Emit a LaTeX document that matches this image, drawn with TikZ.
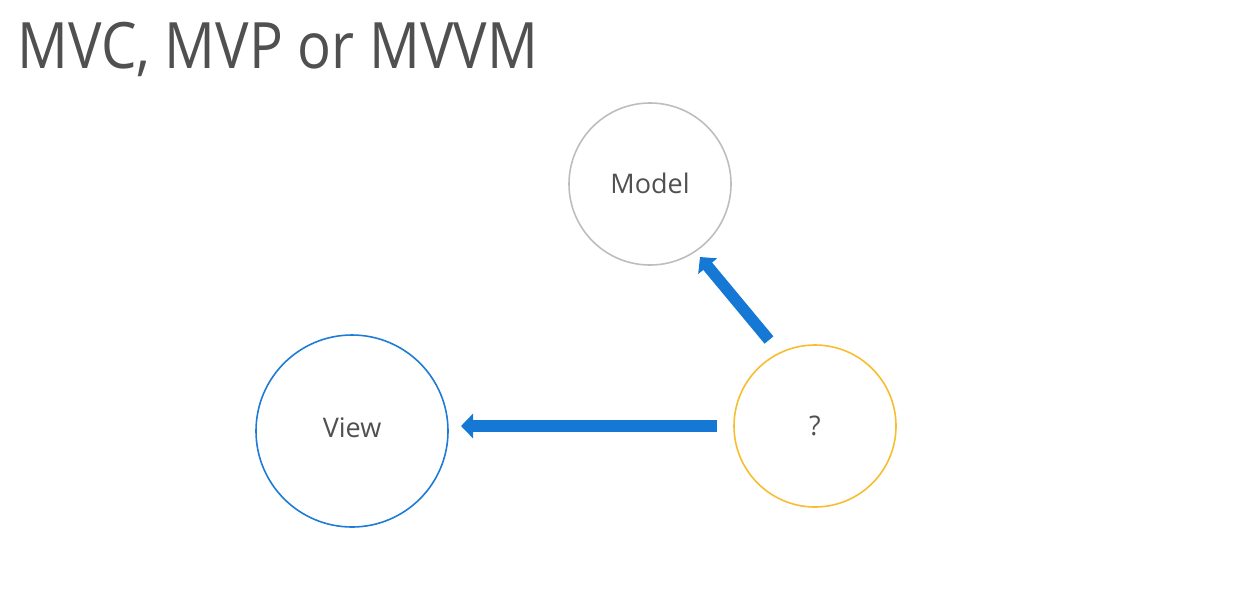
\documentclass[tikz,border=0pt]{standalone}
\usepackage{fontspec}
\setmainfont{Open Sans}
\usetikzlibrary{arrows.meta}
\definecolor{txt}{HTML}{505050}
\definecolor{arrowblue}{HTML}{1478D4}
\definecolor{viewblue}{HTML}{1E7BD6}
\definecolor{modelgray}{HTML}{BDBDBD}
\definecolor{qyellow}{HTML}{F7BD2E}
\begin{document}
\begin{tikzpicture}[x=1pt,y=-1pt,
  circ/.style={circle,line width=1.6pt,inner sep=0pt,text=txt,font=\fontsize{27}{30}\selectfont},
  bigarrow/.style={draw=arrowblue,line width=11.5pt,-{Triangle[width=24pt,length=12pt]}}]
\useasboundingbox (0,0) rectangle (1246,614);
\node[anchor=base west,text=txt,font=\fontsize{64}{70}\selectfont,inner sep=0pt] (title) at (17,68) {\scalebox{0.88}[1]{MVC, MVP or MVVM}};
\node[circ,draw=modelgray,minimum size=162pt] (model) at (650,184) {\raisebox{2pt}{Model}};
\node[circ,draw=viewblue,minimum size=192pt] (view) at (352,431) {\raisebox{6pt}{View}};
\node[circ,draw=qyellow,minimum size=162pt] (q) at (815,426) {?};
\coordinate (h1) at (717,426);
\coordinate (h2) at (461,426);
\coordinate (d1) at (769,340);
\coordinate (d2) at (700,257);
\draw[bigarrow] (h1) -- (h2);
\draw[bigarrow] (d1) -- (d2);
\end{tikzpicture}
\end{document}
